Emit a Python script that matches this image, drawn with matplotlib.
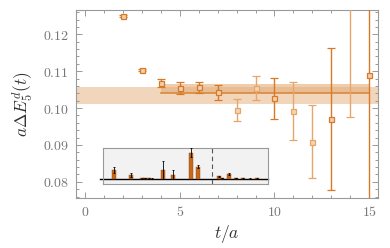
import matplotlib
matplotlib.use("Agg")
import matplotlib.pyplot as plt
from matplotlib.ticker import MultipleLocator, FixedLocator
import numpy as np

plt.rcParams['mathtext.fontset'] = 'cm'
plt.rcParams['font.family'] = ['DejaVu Serif']

# main data
t_dark = [2, 3, 4, 5, 6, 7, 10, 13, 15]
e_dark = [0.1249, 0.1104, 0.1068, 0.1054, 0.1056, 0.1043, 0.1026, 0.0970, 0.1089]
err_dark = [0.0003, 0.0003, 0.0011, 0.0017, 0.0015, 0.0020, 0.0055, 0.0192, 0.0450]
t_light = [8, 9, 11, 12, 14]
e_light = [0.0995, 0.1055, 0.0993, 0.0909, 0.1285]
err_light = [0.0029, 0.0033, 0.0079, 0.0100, 0.0310]

# fit bands
band_all = (0.1011, 0.1056)
band_plateau = (0.1040, 0.1064)
fit_line = 0.10415
plateau_range = (4, 15)

# inset bars
inset_idx = [3, 8, 11, 12, 13, 14, 17, 20, 25, 27, 33, 34, 36, 38, 40, 42, 44]
inset_h = [9.0, 4.0, 0.6, 0.8, 0.7, 0.5, 9.0, 4.3, 26.3, 12.3, 3.0, 0.8, 5.0, 0.9, 0.7, 0.5, 0.6]
inset_err = [2.7, 2.0, 0.2, 0.2, 0.2, 0.2, 9.3, 4.4, 4.4, 1.7, 0.5, 0.2, 1.0, 0.2, 0.2, 0.2, 0.2]
inset_dash = 31

orange = '#d67a28'
orange_l = '#e6a56a'
gray = '#9a9a9a'

fig = plt.figure(figsize=(3.9, 2.48), dpi=100)
W, H = 390, 248
ax = fig.add_axes([76 / W, 1 - 198 / H, (378 - 76) / W, (198 - 10) / H])

ax.set_xlim(-0.47, 15.46)
ax.set_ylim(0.0756, 0.1266)

ax.axhspan(band_all[0], band_all[1], color='#f0cfb0', alpha=0.85, lw=0, zorder=1)
ax.fill_between(plateau_range, band_plateau[0], band_plateau[1], color='#e3ab78', alpha=0.6, lw=0, zorder=2)
ax.plot(plateau_range, [fit_line, fit_line], color='#d9893f', lw=1.2, zorder=3)

ax.errorbar(t_light, e_light, yerr=err_light, fmt='s', ms=3.6, mfc='#f3d3b4', mec=orange_l,
            mew=0.9, ecolor=orange_l, elinewidth=1.0, capsize=2.8, capthick=1.0, zorder=4)
ax.errorbar(t_dark, e_dark, yerr=err_dark, fmt='s', ms=3.6, mfc='#f1cfae', mec=orange,
            mew=0.9, ecolor=orange, elinewidth=1.0, capsize=2.8, capthick=1.0, zorder=5)

for s in ax.spines.values():
    s.set_color(gray)
    s.set_linewidth(0.8)

ax.xaxis.set_major_locator(FixedLocator([0, 5, 10, 15]))
ax.xaxis.set_minor_locator(MultipleLocator(1))
ax.yaxis.set_major_locator(FixedLocator([0.08, 0.09, 0.10, 0.11, 0.12]))
ax.yaxis.set_minor_locator(MultipleLocator(0.002))
ax.set_xticklabels([r'$0$', r'$5$', r'$10$', r'$15$'])
ax.set_yticklabels([r'$0.08$', r'$0.09$', r'$0.10$', r'$0.11$', r'$0.12$'])
ax.tick_params(which='both', direction='in', top=True, right=True, color=gray,
               labelcolor='#777777', labelsize=10, width=0.7)
ax.tick_params(which='major', length=4, pad=5)
ax.tick_params(which='minor', length=2)
ax.tick_params(axis='x', which='major', pad=5)

ax.set_xlabel(r'$t/a$', fontsize=12.5, color='#333333', labelpad=3)
ax.set_ylabel(r'$a\Delta E_5^d(t)$', fontsize=12.5, color='#333333', labelpad=6)

# inset
ins = fig.add_axes([103.3 / W, 1 - 184 / H, (267.7 - 103.3) / W, (184 - 148.3) / H])
ins.set_facecolor('#f2f2f2')
ins.set_xlim(0, 47)
ins.set_ylim(-5, 30.7)
ins.bar(inset_idx, inset_h, width=1.1, color='#c8691a', edgecolor='#8a4510', lw=0.3, zorder=3)
ins.errorbar(inset_idx, inset_h, yerr=inset_err, fmt='none', ecolor='black', elinewidth=0.6,
             capsize=1.0, capthick=0.6, zorder=4)
ins.plot([-1, 47], [0, 0], color='black', lw=1.0, clip_on=False, zorder=2)
ins.axvline(inset_dash, color='#555555', lw=0.8, ls=(0, (4, 3)), zorder=2)
ins.set_xticks([])
ins.set_yticks([])
for s in ins.spines.values():
    s.set_color('#999999')
    s.set_linewidth(0.8)

fig.savefig('out.png', dpi=100)
